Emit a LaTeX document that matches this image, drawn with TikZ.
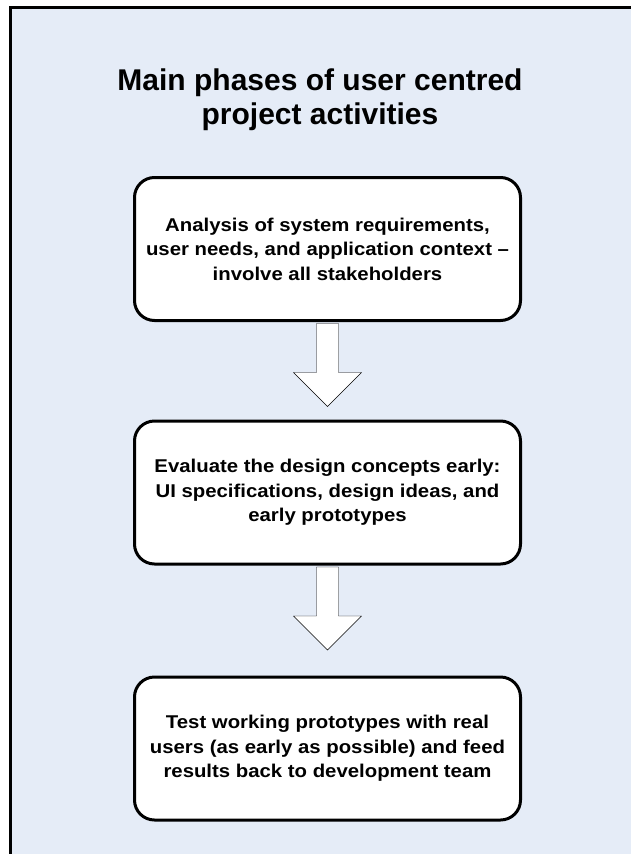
\documentclass[tikz,border=0pt]{standalone}
\usepackage{fontspec}
\setmainfont{Liberation Sans}
\newfontfamily\phasefont[FakeStretch=1.1,Ligatures=TeX]{Liberation Sans}
\usepackage{tikz}
\usepackage{xcolor}
\usetikzlibrary{calc}
\definecolor{panel-blue}{RGB}{229,236,247}
\tikzset{
    panel-frame/.style = {draw=black, fill=panel-blue, line width=3pt},
    panel-title/.style = {align=center, font=\fontsize{30}{34}\selectfont\bfseries},
    phase-box/.style = {draw=black, fill=white, line width=3pt, rectangle, rounded corners=20pt, minimum width=386pt, minimum height=143pt, align=center, font=\phasefont\fontsize{18.5}{24.5}\selectfont\bfseries},
    phase-arrow/.style = {draw=black, fill=white, thin, line join=miter},
}

\begin{document}
\begin{tikzpicture}[x=1pt, y=-1pt]
\useasboundingbox (0,0) rectangle (631,854);
\clip (0,0) rectangle (631,854);
\draw[panel-frame] (10,7) rectangle (680,900);
\node [panel-title] (title) at (320,100) {Main phases of user centred\\project activities};
\node [phase-box] (analysis) at (327.5,249) {Analysis of system requirements,\\user needs, and application context –\\involve all stakeholders};
\node [phase-box] (evaluate) at (327.5,492.5) {Evaluate the design concepts early:\\UI specifications, design ideas, and\\early prototypes};
\node [phase-box] (test) at (327.5,748.5) {Test working prototypes with real\\users (as early as possible) and feed\\results back to development team};
\foreach \from/\to in {analysis/evaluate, evaluate/test}
    \draw [phase-arrow] ($(\from.south)+(-11,1.5)$) -- ++(0,49) -- ++(-23,0) -- ++(34,34) -- ++(34,-34) -- ++(-23,0) -- ++(0,-49) -- cycle;
\end{tikzpicture}
\end{document}
